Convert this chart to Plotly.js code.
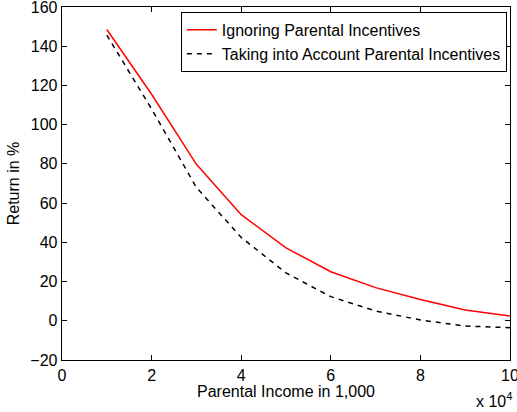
<!DOCTYPE html>
<html>
<head>
<meta charset="utf-8">
<script src="https://cdn.plot.ly/plotly-3.0.1.min.js"></script>
<style>
html, body { margin: 0; padding: 0; background: #fff; }
#chart { width: 517px; height: 412px; }
</style>
</head>
<body>
<div id="chart"></div>
<script>
// Parental income (in units of 1 = 10^4, i.e. 1,000s x 10)
const parentalIncome = [10000, 20000, 30000, 40000, 50000, 60000, 70000, 80000, 90000, 100000];
const ignoringIncentives = [148.5, 115.5, 79.8, 54.1, 37.2, 25.0, 16.9, 10.9, 5.5, 2.4];
const withIncentives = [145.7, 108.0, 68.0, 42.5, 24.4, 12.3, 5.0, 0.4, -2.7, -3.5];
const seriesNames = ["Ignoring Parental Incentives", "Taking into Account Parental Incentives"];
const xTickVals = [0, 20000, 40000, 60000, 80000, 100000];
const xTickText = ["0", "2", "4", "6", "8", "10"];
const yTickVals = [-20, 0, 20, 40, 60, 80, 100, 120, 140, 160];
const yTickText = ["\u221220", "0", "20", "40", "60", "80", "100", "120", "140", "160"];

const FONT = "Liberation Sans, Arial, Helvetica, sans-serif";
const FS = 16;

const traces = [
  {
    x: parentalIncome, y: ignoringIncentives, name: seriesNames[0],
    type: "scatter", mode: "lines",
    line: { color: "#ff0000", width: 1.5 }
  },
  {
    x: parentalIncome, y: withIncentives, name: seriesNames[1],
    type: "scatter", mode: "lines",
    line: { color: "#000000", width: 1.5, dash: "5px,5px" }
  }
];

const layout = {
  width: 517, height: 412,
  margin: { l: 62, r: 7, t: 7, b: 52 },
  paper_bgcolor: "#ffffff",
  plot_bgcolor: "#ffffff",
  font: { family: FONT, size: FS, color: "#000" },
  showlegend: true,
  legend: {
    x: 0.993, y: 0.986, xanchor: "right", yanchor: "top",
    bgcolor: "#ffffff", bordercolor: "#000", borderwidth: 1,
    font: { family: FONT, size: FS, color: "#000" },
    tracegroupgap: 0, itemwidth: 30
  },
  xaxis: {
    range: [0, 100000],
    tickvals: xTickVals, ticktext: xTickText,
    ticks: "inside", ticklen: 5, tickcolor: "#000", tickwidth: 1,
    showline: true, linecolor: "#000", linewidth: 1.3, mirror: "allticks",
    showgrid: false, zeroline: false, ticklabeloverflow: "allow",
    tickfont: { family: FONT, size: FS, color: "#000" },
    title: { text: "Parental Income in 1,000", font: { family: FONT, size: FS, color: "#000" }, standoff: 0 }
  },
  yaxis: {
    range: [-20, 160],
    tickvals: yTickVals, ticktext: yTickText,
    ticks: "inside", ticklen: 5, tickcolor: "#000", tickwidth: 1,
    showline: true, linecolor: "#000", linewidth: 1.3, mirror: "allticks",
    showgrid: false, zeroline: false, ticklabeloverflow: "allow",
    tickfont: { family: FONT, size: FS, color: "#000" },
    title: { text: "Return in %", font: { family: FONT, size: FS, color: "#000" }, standoff: 6 }
  },
  annotations: [
    {
      xref: "paper", yref: "paper", x: 1.008, y: -0.113,
      xanchor: "right", yanchor: "middle", showarrow: false,
      text: "x 10<sup>4</sup>", font: { family: FONT, size: FS, color: "#000" }
    }
  ]
};

Plotly.newPlot("chart", traces, layout, { staticPlot: true, displayModeBar: false });
</script>
</body>
</html>
